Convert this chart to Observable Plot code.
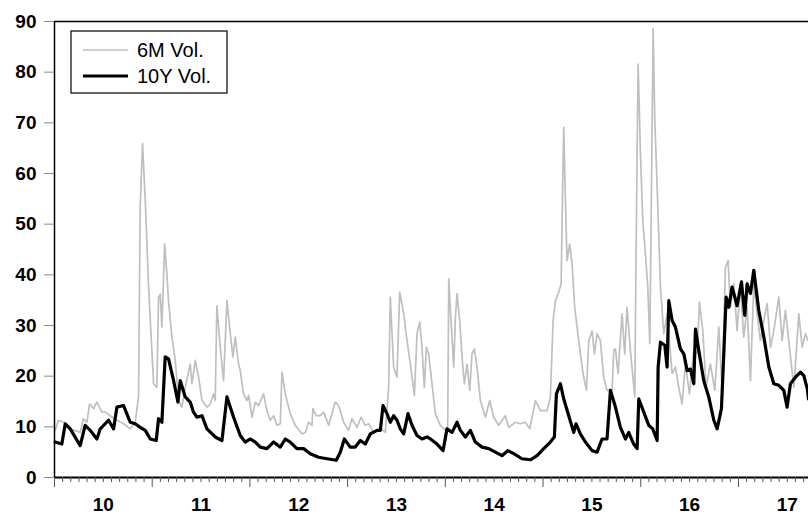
<!DOCTYPE html>
<html><head><meta charset="utf-8">
<script src="https://cdn.jsdelivr.net/npm/d3@7"></script>
<script src="https://cdn.jsdelivr.net/npm/@observablehq/plot@0.6"></script>
<style>
body{margin:0;background:#fff;}
#chart{position:relative;width:808px;height:520px;}
</style></head><body><div id="chart"></div>
<script>
// 10Y volatility (black): time in decimal years, value
const t10Y = [2010.007,2010.075,2010.110,2010.161,2010.263,2010.314,2010.366,2010.434,2010.468,2010.553,2010.605,2010.639,2010.707,2010.775,2010.826,2010.877,2010.929,2010.980,2011.041,2011.065,2011.099,2011.133,2011.167,2011.219,2011.263,2011.287,2011.338,2011.389,2011.423,2011.457,2011.509,2011.560,2011.645,2011.714,2011.765,2011.833,
2011.901,2011.952,2012.004,2012.055,2012.106,2012.174,2012.242,2012.311,2012.362,2012.413,2012.481,2012.550,2012.618,2012.703,2012.789,2012.884,2012.925,2012.966,2013.027,2013.078,2013.130,2013.181,2013.232,2013.301,2013.335,2013.362,2013.403,2013.437,2013.471,2013.505,2013.539,2013.574,2013.618,2013.659,2013.710,2013.761,2013.812,
2013.847,2013.915,2013.977,2014.017,2014.069,2014.120,2014.154,2014.205,2014.256,2014.307,2014.376,2014.444,2014.512,2014.580,2014.639,2014.700,2014.785,2014.871,2014.939,2015.007,2015.075,2015.116,2015.137,2015.178,2015.212,2015.263,2015.314,2015.338,2015.382,2015.434,2015.502,2015.553,2015.604,2015.655,2015.690,2015.741,
2015.792,2015.843,2015.877,2015.928,2015.963,2015.980,2016.031,2016.082,2016.123,2016.168,2016.178,2016.202,2016.246,2016.270,2016.287,2016.321,2016.355,2016.406,2016.441,2016.475,2016.509,2016.543,2016.560,2016.594,2016.645,2016.696,2016.748,2016.782,2016.826,2016.850,2016.874,2016.901,2016.935,2016.986,2017.031,2017.065,2017.089,2017.123,2017.157,2017.208,2017.260,2017.311,2017.362,2017.413,2017.464,2017.498,2017.532,2017.584,2017.635,2017.669,2017.705,2017.717];
const v10Y = [7.0,6.6,10.6,9.6,6.3,10.3,9.3,7.6,9.6,11.3,9.6,13.9,14.2,10.9,10.6,9.9,9.3,7.6,7.3,11.6,10.9,23.8,23.4,19.1,14.9,19.1,15.9,14.9,12.9,11.9,12.2,9.6,8.0,7.3,15.9,11.9,
8.3,7.0,7.6,7.0,6.0,5.7,7.0,6.0,7.6,7.0,5.7,5.7,4.7,4.0,3.7,3.4,5.0,7.6,6.0,6.0,7.3,6.6,8.6,9.3,9.3,14.2,12.6,10.9,12.2,11.3,9.6,8.6,12.6,10.3,8.3,7.6,8.0,
7.6,6.6,5.3,9.6,8.9,10.9,9.3,8.0,9.3,7.0,6.0,5.7,5.0,4.3,5.3,4.7,3.7,3.5,4.3,5.7,7.0,8.0,16.5,18.5,15.5,12.2,8.9,10.6,8.6,7.0,5.3,5.0,7.6,7.6,17.2,13.9,
9.9,7.6,8.9,6.6,5.7,15.5,12.9,10.3,9.6,7.3,21.8,26.7,26.1,21.8,34.9,31.0,29.7,25.4,24.4,21.1,21.4,18.5,29.3,25.1,19.1,15.9,11.3,9.6,13.6,24.4,35.6,33.6,37.6,33.9,38.6,32.0,38.2,36.3,40.9,33.0,27.7,21.8,18.5,18.2,17.2,13.9,18.5,19.8,20.8,20.1,17.5,15.5];

// 6M volatility (grey)
const t6M = [2010.007,2010.041,2010.092,2010.161,2010.263,2010.297,2010.331,2010.359,2010.400,2010.434,2010.485,2010.519,2010.570,2010.639,2010.707,2010.775,2010.826,2010.860,2010.877,2010.901,2010.929,2010.963,2011.014,2011.048,2011.065,2011.082,2011.099,2011.116,2011.127,2011.150,2011.167,2011.202,2011.236,2011.270,2011.304,2011.338,2011.389,2011.406,2011.441,2011.475,2011.509,2011.560,2011.594,2011.628,2011.645,2011.662,2011.696,2011.730,2011.765,2011.799,2011.826,2011.850,2011.884,
2011.901,2011.935,2011.970,2011.987,2012.021,2012.055,2012.089,2012.140,2012.174,2012.208,2012.242,2012.277,2012.311,2012.328,2012.362,2012.413,2012.464,2012.533,2012.567,2012.601,2012.635,2012.645,2012.679,2012.720,2012.755,2012.806,2012.874,2012.908,2012.959,2013.010,2013.044,2013.096,2013.137,2013.181,2013.215,2013.267,2013.335,2013.386,2013.420,2013.437,2013.471,2013.505,2013.533,2013.574,2013.608,2013.642,2013.683,2013.710,2013.738,2013.761,2013.785,2013.806,2013.829,
2013.847,2013.898,2013.949,2014.000,2014.024,2014.035,2014.058,2014.086,2014.103,2014.120,2014.147,2014.171,2014.195,2014.222,2014.250,2014.273,2014.297,2014.324,2014.359,2014.410,2014.454,2014.495,2014.546,2014.615,2014.649,2014.717,2014.768,2014.820,2014.864,2014.922,2014.973,2015.041,2015.075,2015.103,2015.127,2015.161,2015.185,2015.202,2015.212,2015.229,2015.246,2015.273,2015.297,2015.324,2015.365,2015.410,2015.444,2015.468,2015.502,2015.526,2015.553,2015.587,2015.621,2015.655,2015.707,2015.724,
2015.741,2015.768,2015.809,2015.836,2015.860,2015.894,2015.939,2015.952,2015.973,2015.997,2016.021,2016.048,2016.072,2016.093,2016.110,2016.127,2016.144,2016.168,2016.202,2016.236,2016.270,2016.321,2016.355,2016.389,2016.423,2016.458,2016.499,2016.543,2016.577,2016.601,2016.635,2016.669,2016.713,2016.758,2016.799,2016.833,2016.867,2016.894,2016.918,2016.952,2016.986,2017.020,2017.054,2017.089,2017.123,2017.157,2017.191,2017.225,2017.260,2017.294,2017.328,2017.362,2017.413,2017.447,2017.481,2017.515,2017.567,2017.618,2017.652,2017.686,2017.713];
const v6M = [9.3,11.3,10.9,9.6,8.9,11.6,10.9,14.5,13.6,14.9,12.9,12.9,12.2,11.3,10.6,9.6,10.9,15.9,53.4,65.9,54.7,37.6,18.5,17.8,35.6,36.2,29.7,39.5,46.1,40.2,34.9,27.7,23.1,15.2,13.9,17.8,22.4,18.5,23.1,19.8,15.2,13.9,14.5,16.5,15.2,33.9,25.7,19.1,34.9,28.4,23.8,27.7,22.4,
21.1,16.5,15.2,16.2,11.9,14.9,14.2,16.5,13.2,11.3,12.2,10.3,10.6,20.8,16.5,12.6,10.3,8.6,8.9,10.9,10.3,13.6,12.2,12.2,12.9,10.3,14.9,14.2,10.9,9.3,11.6,9.9,11.9,10.3,10.6,8.9,9.6,8.9,17.8,35.6,21.8,19.8,36.6,32.3,27.0,22.4,16.2,28.4,30.7,25.7,17.8,25.7,24.4,
21.4,12.6,10.3,9.3,9.3,39.2,31.0,21.8,31.6,36.3,31.0,23.8,18.5,22.4,17.2,24.4,25.4,21.8,15.2,11.9,15.2,11.9,10.3,12.2,9.9,10.9,10.6,10.9,9.6,15.2,13.2,13.2,15.9,31.0,34.9,36.6,38.2,58.6,69.1,54.7,42.8,46.1,42.2,33.6,27.0,20.5,17.2,27.0,28.9,24.4,28.4,27.0,19.8,17.2,17.2,25.1,
25.4,20.5,32.3,24.4,33.6,25.1,15.9,44.1,81.6,63.9,50.7,44.1,37.6,26.4,57.3,88.6,70.5,57.3,37.6,28.4,32.3,20.5,21.8,17.8,14.5,22.4,16.5,25.1,24.4,34.6,29.0,17.8,22.4,17.2,29.7,17.2,41.5,42.8,33.6,38.2,29.0,38.2,27.7,33.6,19.1,38.2,32.3,27.0,31.0,34.3,25.7,29.0,35.6,27.0,33.0,27.0,17.8,32.3,25.7,28.4,27.0];

const years = [2010,2011,2012,2013,2014,2015,2016,2017];
const yearLabels = ["10","11","12","13","14","15","16","17"];
const yTicks = [0,10,20,30,40,50,60,70,80,90];
const seriesNames = ["6M Vol.","10Y Vol."];
const xEnd = 2017.717;

const d10 = t10Y.map((t,i)=>({t, v:v10Y[i]}));
const d6 = t6M.map((t,i)=>({t, v:v6M[i]}));
const minor = [];
years.forEach(y => { for (let m = 1; m < 12; m++) { const p = y + m/12; if (p < xEnd) minor.push(p); } });
const labelPos = years.map(y => y + 0.5);
const labelOf = new Map(labelPos.map((p,i)=>[p, yearLabels[i]]));

const fontFam = "'Liberation Sans', Arial, Helvetica, sans-serif";
const chart = Plot.plot({
  width: 808, height: 520,
  marginLeft: 54, marginRight: 0, marginTop: 21, marginBottom: 43,
  style: {fontFamily: fontFam, background: "#fff", overflow: "visible"},
  x: {type: "linear", domain: [2010, xEnd], axis: null, label: null},
  y: {domain: [0, 90], axis: null, label: null},
  marks: [
    Plot.line(d6, {x: "t", y: "v", stroke: "#bfbfbf", strokeWidth: 1.7}),
    Plot.line(d10, {x: "t", y: "v", stroke: "#000", strokeWidth: 3.2, strokeLinejoin: "round"}),
    Plot.ruleY([90], {stroke: "#000", strokeWidth: 1.5}),
    Plot.ruleY([0], {stroke: "#000", strokeWidth: 2}),
    Plot.ruleX([2010], {stroke: "#000", strokeWidth: 1.5}),
    Plot.axisY(yTicks, {label: null, tickSize: 10, tickPadding: 8, stroke: "#8a8a8a", fill: "#000", fontSize: 19, fontWeight: "bold", tickFormat: d => String(d)}),
    Plot.axisX(minor, {label: null, tickSize: 5, tickFormat: () => "", stroke: "#555"}),
    Plot.axisX(years, {label: null, tickSize: 10, tickFormat: () => "", stroke: "#555"}),
    Plot.axisX(labelPos, {label: null, tickSize: 0, tickPadding: 20, fill: "#000", fontSize: 19, fontWeight: "bold", tickFormat: d => labelOf.get(d)})
  ]
});
document.getElementById("chart").appendChild(chart);

// legend
const svg = d3.select(chart);
const lg = svg.append("g").attr("font-family", fontFam).attr("text-anchor", "start");
lg.append("rect").attr("x", 71).attr("y", 31).attr("width", 156).attr("height", 62)
  .attr("fill", "#fff").attr("stroke", "#000").attr("stroke-width", 1.2);
const legendStyles = [{stroke: "#bfbfbf", w: 1.7}, {stroke: "#000", w: 3.2}];
seriesNames.forEach((name, i) => {
  const yy = 50 + i * 26;
  lg.append("line").attr("x1", 83).attr("x2", 128).attr("y1", yy).attr("y2", yy)
    .attr("stroke", legendStyles[i].stroke).attr("stroke-width", legendStyles[i].w);
  lg.append("text").attr("x", 137).attr("y", yy + 7).attr("font-size", 20)
    .attr("text-anchor", "start").attr("fill", "#000").text(name);
});
</script></body></html>
